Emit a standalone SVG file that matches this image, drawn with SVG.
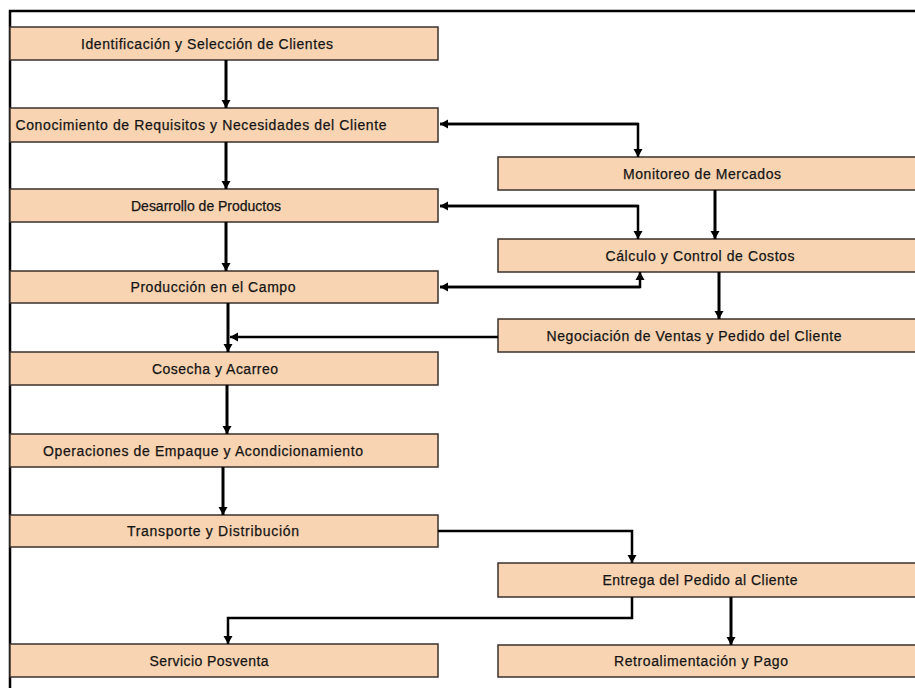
<svg xmlns="http://www.w3.org/2000/svg" width="915" height="688" viewBox="0 0 915 688">
<style>
.box{fill:#F9D4B2;stroke:#3a302c;stroke-width:1.5}
.t{font-family:"Liberation Sans",Arial,sans-serif;font-size:14px;fill:#151515;stroke:#151515;stroke-width:0.25;text-anchor:middle}
.c{fill:none;stroke:#000;stroke-width:3}
.h{fill:none;stroke:#000;stroke-width:2.5}
.frame{fill:none;stroke:#000;stroke-width:2.5}
</style>
<defs>
<marker id="ah" markerUnits="userSpaceOnUse" markerWidth="10" markerHeight="10" refX="8" refY="5" orient="auto">
<path d="M0,0.5 L8,5 L0,9.5 z" fill="#000"/>
</marker>
</defs>
<rect width="915" height="688" fill="#fff"/>
<path class="frame" d="M10,688 V11 H915"/>

<g id="n1"><rect class="box" x="10" y="27" width="428" height="33"/><text class="t" x="207" y="48.5" textLength="252" lengthAdjust="spacing">Identificación y Selección de Clientes</text></g>
<g id="n2"><rect class="box" x="10" y="108" width="428" height="34"/><text class="t" x="201" y="130" textLength="371" lengthAdjust="spacing">Conocimiento de Requisitos y Necesidades del Cliente</text></g>
<g id="n3"><rect class="box" x="10" y="189" width="428" height="33"/><text class="t" x="206" y="210.5" textLength="150" lengthAdjust="spacing">Desarrollo de Productos</text></g>
<g id="n4"><rect class="box" x="10" y="271" width="428" height="32"/><text class="t" x="213" y="292" textLength="165" lengthAdjust="spacing">Producción en el Campo</text></g>
<g id="n5"><rect class="box" x="10" y="352" width="428" height="33"/><text class="t" x="215" y="373.5" textLength="126" lengthAdjust="spacing">Cosecha y Acarreo</text></g>
<g id="n6"><rect class="box" x="10" y="434" width="428" height="33"/><text class="t" x="203" y="455.5" textLength="320" lengthAdjust="spacing">Operaciones de Empaque y Acondicionamiento</text></g>
<g id="n7"><rect class="box" x="10" y="515" width="428" height="32"/><text class="t" x="213" y="536" textLength="172" lengthAdjust="spacing">Transporte y Distribución</text></g>
<g id="n8"><rect class="box" x="10" y="644" width="428" height="33"/><text class="t" x="209" y="665.5" textLength="119" lengthAdjust="spacing">Servicio Posventa</text></g>

<g id="n9"><rect class="box" x="498" y="157" width="430" height="33"/><text class="t" x="702" y="178.5" textLength="158" lengthAdjust="spacing">Monitoreo de Mercados</text></g>
<g id="n10"><rect class="box" x="498" y="239" width="430" height="33"/><text class="t" x="700" y="260.5" textLength="189" lengthAdjust="spacing">Cálculo y Control de Costos</text></g>
<g id="n11"><rect class="box" x="498" y="319" width="430" height="33"/><text class="t" x="694" y="340.5" textLength="295" lengthAdjust="spacing">Negociación de Ventas y Pedido del Cliente</text></g>
<g id="n12"><rect class="box" x="498" y="563" width="430" height="34"/><text class="t" x="700" y="585" textLength="195" lengthAdjust="spacing">Entrega del Pedido al Cliente</text></g>
<g id="n13"><rect class="box" x="498" y="645" width="430" height="32"/><text class="t" x="701" y="666" textLength="174" lengthAdjust="spacing">Retroalimentación y Pago</text></g>

<g id="connectors">
<path class="c" d="M226,60 V108" marker-end="url(#ah)"/>
<path class="c" d="M226,142 V189" marker-end="url(#ah)"/>
<path class="c" d="M226,222 V271" marker-end="url(#ah)"/>
<path class="c" d="M228,303 V352" marker-end="url(#ah)"/>
<path class="h" d="M498,337 H230" marker-end="url(#ah)"/>
<path class="c" d="M227,385 V434" marker-end="url(#ah)"/>
<path class="c" d="M223,467 V515" marker-end="url(#ah)"/>
<path class="h" d="M438,531 H632 V563" marker-end="url(#ah)"/>
<path class="h" d="M632,597 V618 H228 V644" marker-end="url(#ah)"/>
<path class="c" d="M731,597 V645" marker-end="url(#ah)"/>
<path class="h" d="M638,124 H440" marker-end="url(#ah)"/>
<path class="h" d="M440,124 H638 V157" marker-end="url(#ah)"/>
<path class="h" d="M638,206 H440" marker-end="url(#ah)"/>
<path class="h" d="M440,206 H638 V239" marker-end="url(#ah)"/>
<path class="c" d="M715,190 V239" marker-end="url(#ah)"/>
<path class="h" d="M640,287 H440" marker-end="url(#ah)"/>
<path class="h" d="M440,287 H640 V272" marker-end="url(#ah)"/>
<path class="c" d="M719,272 V319" marker-end="url(#ah)"/>
</g>
</svg>
